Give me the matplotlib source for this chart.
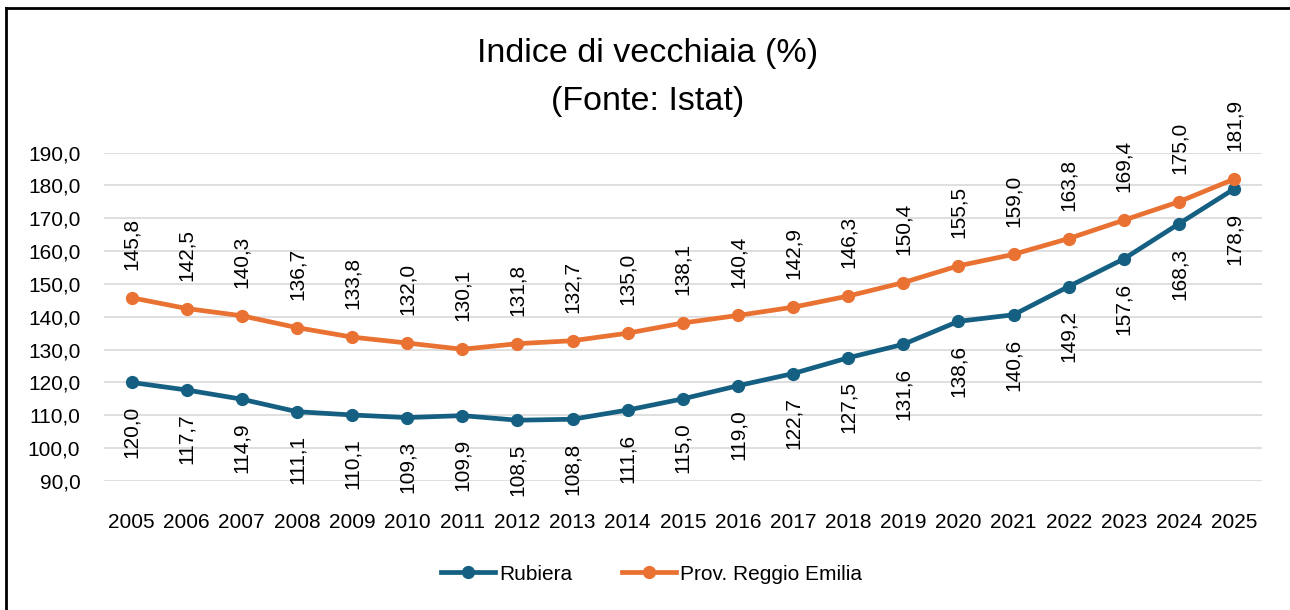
import matplotlib
matplotlib.use("Agg")
import matplotlib.pyplot as plt
from matplotlib.lines import Line2D
from matplotlib.ticker import FuncFormatter

plt.rcParams["font.family"] = ["Liberation Sans", "DejaVu Sans"]

years = list(range(2005, 2026))
rubiera = [120.0, 117.7, 114.9, 111.1, 110.1, 109.3, 109.9, 108.5, 108.8, 111.6,
           115.0, 119.0, 122.7, 127.5, 131.6, 138.6, 140.6, 149.2, 157.6, 168.3, 178.9]
reggio = [145.8, 142.5, 140.3, 136.7, 133.8, 132.0, 130.1, 131.8, 132.7, 135.0,
          138.1, 140.4, 142.9, 146.3, 150.4, 155.5, 159.0, 163.8, 169.4, 175.0, 181.9]
yticks = list(range(90, 191, 10))

BLUE = "#156082"
ORANGE = "#E97132"


def fmt(v):
    return f"{v:.1f}".replace(".", ",")


fig = plt.figure(figsize=(12.9, 6.1), dpi=100)
ax = fig.add_axes([0.0806, 0.2115, 0.8974, 0.5385])
x = list(range(len(years)))

ax.plot(x, rubiera, "-o", color=BLUE, lw=3.4, ms=8.5, label="Rubiera", zorder=3)
ax.plot(x, reggio, "-o", color=ORANGE, lw=3.4, ms=8.5, label="Prov. Reggio Emilia", zorder=3)

for xi, v in zip(x, reggio):
    ax.annotate(fmt(v), (xi, v), xytext=(0, 20), textcoords="offset points",
                rotation=90, ha="center", va="bottom", fontsize=15, color="#000000")
for xi, v in zip(x, rubiera):
    ax.annotate(fmt(v), (xi, v), xytext=(0, -17), textcoords="offset points",
                rotation=90, ha="center", va="top", fontsize=15, color="#000000")

ax.set_xlim(-0.5, len(years) - 0.5)
ax.set_ylim(90, 190)
ax.set_yticks(yticks)
ax.yaxis.set_major_formatter(FuncFormatter(lambda v, p: fmt(v)))
ax.set_xticks(x)
ax.set_xticklabels([str(y) for y in years])
ax.tick_params(axis="both", length=0, labelsize=15, colors="#000000")
ax.tick_params(axis="y", pad=17)
ax.tick_params(axis="x", pad=23)
ax.grid(axis="y", color="#D9D9D9", lw=1.2)
ax.set_axisbelow(True)
for s in ax.spines.values():
    s.set_visible(False)

fig.text(0.502, 0.913, "Indice di vecchiaia (%)", ha="center", va="center", fontsize=24.5)
fig.text(0.502, 0.834, "(Fonte: Istat)", ha="center", va="center", fontsize=24.5)

fig.legend(loc="center", bbox_to_anchor=(0.505, 0.059), ncol=2, frameon=False,
           fontsize=15, handlelength=2.6, columnspacing=2.4, handletextpad=0.2)

fig.add_artist(Line2D([6 / 1290, 6 / 1290], [0, 1 - 8 / 610], color="black", lw=2))
fig.add_artist(Line2D([6 / 1290, 1], [1 - 8 / 610, 1 - 8 / 610], color="black", lw=2))

fig.savefig("out.png", dpi=100)
